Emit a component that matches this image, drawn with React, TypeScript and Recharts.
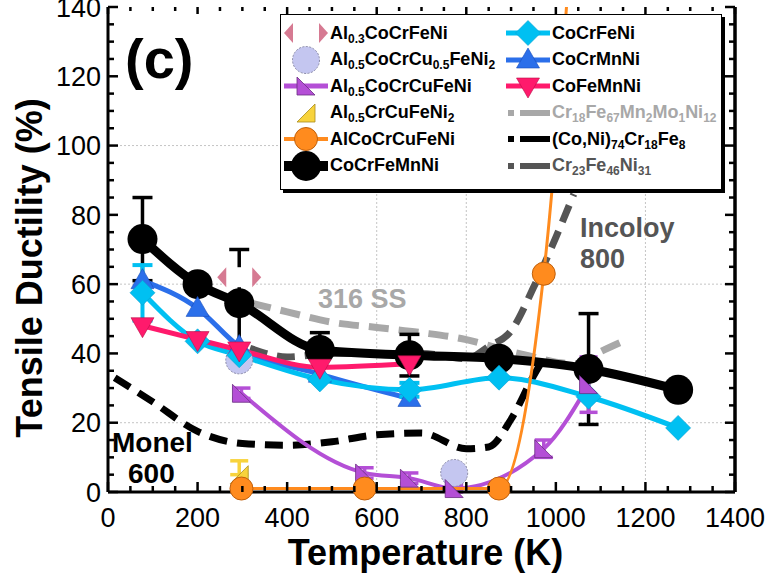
import React from 'react';
import { ComposedChart, Line, XAxis, YAxis, ReferenceLine, ErrorBar, Legend } from 'recharts';

const FONT = "'Liberation Sans', Arial, Helvetica, sans-serif";

// ---- measured alloys: temperature (K) / tensile ductility (%) ----
const T_CANTOR = [77, 200, 293, 473, 673, 873, 1073, 1273];
const CO_CR_FE_MN_NI = [73, 60, 54.5, 41, 39.5, 38.5, 35.5, 29.5];
const CO_CR_FE_MN_NI_ERR = [12, null, 15.5, 5, 6, null, 16, null];
const CO_CR_FE_NI = [57.5, 43.5, 39.5, 32.5, 29.5, 33, 27.5, 18.5];
const CO_CR_FE_NI_ERR = [8, null, null, null, 2, null, null, null];

const T_TERNARY = [77, 200, 293, 473, 673];
const CO_CR_MN_NI = [61, 53, 42, 34, 27];
const CO_FE_MN_NI = [48, 44, 41, 36, 37];

const T_AL03 = [293];
const AL03 = [62];
const T_AL05_CU05 = [293, 773];
const AL05_CU05 = [38, 5.5];
const T_AL05_CU = [298, 573, 673, 773, 973, 1073];
const AL05_CU = [28.5, 5.5, 4, 1, 12.5, 31];
const AL05_CU_ERR = [1.5, 1.5, 1.5, 1, 2.5, 8];
const T_AL05_CR = [293];
const AL05_CR = [5];
const AL05_CR_ERR = [[0, 4]];
const T_AL1 = [298, 573, 873, 973, 1073];
const AL1 = [1, 1, 1, 63, 235];

// ---- reference alloys (dashed) ----
const T_316 = [320, 400, 500, 600, 700, 800, 900, 950, 1000, 1050, 1100, 1150];
const SS316 = [54.5, 52, 49, 47.5, 46, 44, 40.5, 39, 37.5, 37, 40.5, 43.5];
const T_MONEL = [15, 100, 200, 300, 400, 500, 600, 700, 800, 850, 900, 950, 975];
const MONEL = [33, 26, 17.5, 14, 13.5, 14.5, 16.5, 17, 12.5, 13, 21, 33.5, 39];
const T_INCOLOY = [317, 400, 500, 600, 700, 800, 850, 900, 950, 1000, 1040];
const INCOLOY = [41.5, 39, 40, 40, 40, 38.5, 42, 46.5, 59, 73.5, 86];

// ---- axes ----
const X_MAJOR = [0, 200, 400, 600, 800, 1000, 1200, 1400];
const Y_MAJOR = [0, 20, 40, 60, 80, 100, 120, 140];
const X_GRID = [600, 800, 1200];
const Y_GRID = [20, 60, 100];
const X_TICKS = Array.from({ length: 29 }, (_, i) => i * 50);
const Y_TICKS = Array.from({ length: 29 }, (_, i) => i * 5);

const NAMES_LEFT = [
  'Al_{0.3}CoCrFeNi',
  'Al_{0.5}CoCrCu_{0.5}FeNi_{2}',
  'Al_{0.5}CoCrCuFeNi',
  'Al_{0.5}CrCuFeNi_{2}',
  'AlCoCrCuFeNi',
  'CoCrFeMnNi',
];
const NAMES_RIGHT = [
  'CoCrFeNi',
  'CoCrMnNi',
  'CoFeMnNi',
  'Cr_{18}Fe_{67}Mn_{2}Mo_{1}Ni_{12}',
  '(Co,Ni)_{74}Cr_{18}Fe_{8}',
  'Cr_{23}Fe_{46}Ni_{31}',
];

const C = {
  black: '#000000',
  cyan: '#00C0F2',
  blue: '#2B6FEA',
  pink: '#FF1A6C',
  purple: '#B44FD6',
  lavender: '#C4C6F0',
  orange: '#FF8B1E',
  yellow: '#F8D33C',
  rose: '#D67A92',
  ss: '#A8A8A8',
  monel: '#000000',
  incoloy: '#555555',
};

// frame size (chart 765x578, left axis 108, right axis 30, top 7, bottom axis 86)
const W = 765;
const H = 578;
const PLOT_W = W - 108 - 30;
const PLOT_H = H - 7 - 86;

const pts = (ts: number[], vs: number[], es?: any[]) =>
  ts.map((t, i) => ({ t, v: vs[i], e: es ? es[i] : null }));

// ---- marker shapes ----
const diamond = (x: number, y: number, h: number) => `${x},${y - h} ${x + h},${y} ${x},${y + h} ${x - h},${y}`;

const MK: Record<string, (x: number, y: number) => React.ReactNode> = {
  al03: (x, y) => (
    <g>
      <rect x={x - 13} y={y - 10} width={26} height={20} fill="#fff" />
      <polygon points={`${x - 22},${y} ${x - 13},${y - 10} ${x - 13},${y + 10}`} fill={C.rose} />
      <polygon points={`${x + 22},${y} ${x + 13},${y - 10} ${x + 13},${y + 10}`} fill={C.rose} />
    </g>
  ),
  al05cu05: (x, y) => (
    <circle cx={x} cy={y} r={13.5} fill={C.lavender} stroke="#8c8ca8" strokeWidth={1} strokeDasharray="2 1.5" />
  ),
  al05cu: (x, y) => (
    <polygon points={`${x - 9},${y - 9} ${x - 9},${y + 9} ${x + 9},${y + 9}`} fill={C.purple} stroke="#6b2d82" strokeWidth={0.8} />
  ),
  al05cr: (x, y) => (
    <polygon points={`${x - 9},${y + 9} ${x + 9},${y + 9} ${x + 9},${y - 9}`} fill={C.yellow} stroke="#a88c1c" strokeWidth={0.8} />
  ),
  al1: (x, y) => <circle cx={x} cy={y} r={11.5} fill={C.orange} stroke="#c0600c" strokeWidth={1} />,
  cantor: (x, y) => <circle cx={x} cy={y} r={15} fill={C.black} />,
  feni: (x, y) => <polygon points={diamond(x, y, 12.5)} fill={C.cyan} stroke="#0a9fd0" strokeWidth={0.6} />,
  mnni: (x, y) => (
    <polygon points={`${x},${y - 12} ${x + 11.5},${y + 8} ${x - 11.5},${y + 8}`} fill={C.blue} stroke="#1a4cb8" strokeWidth={0.6} />
  ),
  femn: (x, y) => (
    <polygon points={`${x - 11.5},${y - 8} ${x + 11.5},${y - 8} ${x},${y + 12}`} fill={C.pink} stroke="#b80f48" strokeWidth={0.6} />
  ),
};

const dotOf = (key: string) => (p: any) => (
  <g key={`dot-${key}-${p.index}`}>{p.cx == null || p.cy == null ? null : MK[key](p.cx, p.cy)}</g>
);

// ---- chemical formula text ----
const chem = (s: string) =>
  s.split(/(_\{[^}]*\})/).filter(Boolean).map((part, i) =>
    part.startsWith('_{') ? (
      <sub key={i} style={{ fontSize: 12, verticalAlign: 'baseline', position: 'relative', top: 4 }}>
        {part.slice(2, -1)}
      </sub>
    ) : (
      <span key={i}>{part}</span>
    )
  );

// ---- legend ----
const lineSample = (color: string, w: number, key?: string) => (
  <>
    <line x1={0} x2={44} y1={13} y2={13} stroke={color} strokeWidth={w} />
    {key ? MK[key](22, 13) : null}
  </>
);
const dashSample = (color: string) => (
  <>
    <rect x={2} y={10} width={6} height={6} fill={color} />
    <rect x={14} y={10} width={30} height={6} fill={color} />
  </>
);

const LEGEND_LEFT = [
  { icon: MK.al03(22, 13), color: '#000' },
  { icon: MK.al05cu05(22, 13), color: '#000' },
  { icon: lineSample(C.purple, 5, 'al05cu'), color: '#000' },
  { icon: MK.al05cr(22, 13), color: '#000' },
  { icon: lineSample(C.orange, 4, 'al1'), color: '#000' },
  { icon: lineSample(C.black, 10, 'cantor'), color: '#000' },
];
const LEGEND_RIGHT = [
  { icon: lineSample(C.cyan, 5, 'feni'), color: '#000' },
  { icon: lineSample(C.blue, 5, 'mnni'), color: '#000' },
  { icon: lineSample(C.pink, 5, 'femn'), color: '#000' },
  { icon: dashSample(C.ss), color: C.ss },
  { icon: dashSample(C.monel), color: '#000' },
  { icon: dashSample(C.incoloy), color: C.incoloy },
];

const LegendRow = ({ icon, color, name }: any) => (
  <div style={{ display: 'flex', alignItems: 'center', height: 26.5 }}>
    <svg width={44} height={26} style={{ overflow: 'visible', flex: 'none' }}>{icon}</svg>
    <span style={{ marginLeft: 2, color, whiteSpace: 'nowrap' }}>{chem(name)}</span>
  </div>
);

const LegendBox = () => (
  <div
    style={{
      boxSizing: 'border-box',
      width: 442,
      height: 176,
      border: '1.5px solid #000',
      boxShadow: '3px 3px 0 #000',
      background: '#fff',
      padding: '5px 0 0 3px',
      display: 'grid',
      gridTemplateColumns: '222px 1fr',
      gridTemplateRows: 'repeat(6, 26.5px)',
      gridAutoFlow: 'column',
      fontFamily: FONT,
      fontWeight: 700,
      fontSize: 18,
      lineHeight: 'normal',
    }}
  >
    {LEGEND_LEFT.map((e, i) => <LegendRow key={`l${i}`} {...e} name={NAMES_LEFT[i]} />)}
    {LEGEND_RIGHT.map((e, i) => <LegendRow key={`r${i}`} {...e} name={NAMES_RIGHT[i]} />)}
  </div>
);

// ---- ticks (inward; the opposite frame side gets the mirrored tick) ----
const BottomTick = ({ x, y, payload }: any) => {
  const major = X_MAJOR.includes(payload.value);
  const top = y - PLOT_H;
  return (
    <g>
      <path d={`M${x},${y} V${y - (major ? 10 : 6)}`} stroke="#000" strokeWidth={2.5} fill="none" />
      <path d={`M${x},${top} V${top + (major ? 7 : 4)}`} stroke="#000" strokeWidth={2.5} fill="none" />
      {major && (
        <text x={x} y={y + 35} textAnchor="middle" fontSize={27} fontFamily={FONT} fill="#000">
          {payload.value}
        </text>
      )}
    </g>
  );
};
const LeftTick = ({ x, y, payload }: any) => {
  const major = Y_MAJOR.includes(payload.value);
  const right = x + PLOT_W;
  return (
    <g>
      <path d={`M${x},${y} H${x + (major ? 10 : 6)}`} stroke="#000" strokeWidth={2.5} fill="none" />
      <path d={`M${right},${y} H${right - (major ? 10 : 6)}`} stroke="#000" strokeWidth={2.5} fill="none" />
      {major && (
        <text x={x - 7} y={y} dy="0.36em" textAnchor="end" fontSize={27} fontFamily={FONT} fill="#000">
          {payload.value}
        </text>
      )}
    </g>
  );
};

const XTitle = (p: any) => {
  const vb = p.viewBox || {};
  const cx = (vb.x ?? 108) + (vb.width ?? PLOT_W) / 2 + 4;
  return (
    <text x={cx} y={565} textAnchor="middle" fontSize={36} fontWeight={700} fontFamily={FONT} fill="#000">
      Temperature (K)
    </text>
  );
};
const YTitle = () => (
  <text
    x={0}
    y={0}
    transform="translate(42, 268) rotate(-90)"
    textAnchor="middle"
    fontSize={36}
    fontWeight={700}
    fontFamily={FONT}
    fill="#000"
  >
    Tensile Ductility (%)
  </text>
);

const AX = { xAxisId: 'b', yAxisId: 'l' } as const;

export default function App() {
  const al1 = pts(T_AL1, AL1);
  return (
    <div style={{ position: 'absolute', left: 0, top: 0, width: W, height: H, background: '#fff' }}>
      <ComposedChart width={W} height={H} margin={{ top: 7, right: 0, bottom: 0, left: 0 }}>
        <XAxis
          xAxisId="b"
          dataKey="t"
          type="number"
          domain={[0, 1400]}
          ticks={X_TICKS}
          interval={0}
          height={86}
          tickSize={0}
          tickMargin={0}
          tickLine={false}
          axisLine={{ stroke: '#000', strokeWidth: 3 }}
          tick={(p: any) => <BottomTick {...p} />}
          label={XTitle}
        />
        <YAxis
          yAxisId="l"
          type="number"
          domain={[0, 140]}
          ticks={Y_TICKS}
          interval={0}
          width={108}
          tickSize={0}
          tickMargin={0}
          tickLine={false}
          axisLine={{ stroke: '#000', strokeWidth: 3 }}
          tick={(p: any) => <LeftTick {...p} />}
          label={YTitle}
        />
        {/* same scale as the left axis; lets a curve leave the frame and be clipped */}
        <YAxis
          yAxisId="r"
          orientation="right"
          type="number"
          domain={[0, 140]}
          allowDataOverflow
          width={30}
          tick={false}
          tickLine={false}
          axisLine={{ stroke: '#000', strokeWidth: 3 }}
        />

        {Y_GRID.map((v) => (
          <ReferenceLine key={`gy${v}`} {...AX} y={v} stroke="#c4c4c4" strokeDasharray="2 2" strokeWidth={1} />
        ))}
        {X_GRID.map((v) => (
          <ReferenceLine key={`gx${v}`} {...AX} x={v} stroke="#c4c4c4" strokeDasharray="2 2" strokeWidth={1} />
        ))}
        <ReferenceLine {...AX} x={1400} ifOverflow="visible" stroke="#000" strokeWidth={3} />

        {/* reference alloys */}
        <Line {...AX} name={NAMES_RIGHT[3]} data={pts(T_316, SS316)} dataKey="v" type="monotone" stroke={C.ss}
          strokeWidth={7} strokeDasharray="20 10" dot={false} isAnimationActive={false} />
        <Line {...AX} name={NAMES_RIGHT[4]} data={pts(T_MONEL, MONEL)} dataKey="v" type="monotone" stroke={C.monel}
          strokeWidth={7} strokeDasharray="18 10" dot={false} isAnimationActive={false} />
        <Line {...AX} name={NAMES_RIGHT[5]} data={pts(T_INCOLOY, INCOLOY)} dataKey="v" type="monotone" stroke={C.incoloy}
          strokeWidth={7} strokeDasharray="18 10" dot={false} isAnimationActive={false} />

        {/* HEAs / MEAs */}
        <Line {...AX} name={NAMES_LEFT[5]} data={pts(T_CANTOR, CO_CR_FE_MN_NI, CO_CR_FE_MN_NI_ERR)} dataKey="v"
          type="monotone" stroke={C.black} strokeWidth={9} dot={dotOf('cantor')} isAnimationActive={false}>
          <ErrorBar dataKey="e" direction="y" width={10} stroke="#000" strokeWidth={3.5} />
        </Line>
        <Line {...AX} name={NAMES_LEFT[1]} data={pts(T_AL05_CU05, AL05_CU05)} dataKey="v" stroke="none"
          dot={dotOf('al05cu05')} isAnimationActive={false} />
        <Line {...AX} name={NAMES_RIGHT[1]} data={pts(T_TERNARY, CO_CR_MN_NI)} dataKey="v" type="monotone"
          stroke={C.blue} strokeWidth={5} dot={dotOf('mnni')} isAnimationActive={false} />
        <Line {...AX} name={NAMES_RIGHT[0]} data={pts(T_CANTOR, CO_CR_FE_NI, CO_CR_FE_NI_ERR)} dataKey="v"
          type="monotone" stroke={C.cyan} strokeWidth={5} dot={dotOf('feni')} isAnimationActive={false}>
          <ErrorBar dataKey="e" direction="y" width={10} stroke={C.cyan} strokeWidth={4} />
        </Line>
        <Line {...AX} name={NAMES_RIGHT[2]} data={pts(T_TERNARY, CO_FE_MN_NI)} dataKey="v" type="monotone"
          stroke={C.pink} strokeWidth={5} dot={dotOf('femn')} isAnimationActive={false} />
        <Line {...AX} name={NAMES_LEFT[2]} data={pts(T_AL05_CU, AL05_CU, AL05_CU_ERR)} dataKey="v" type="monotone"
          stroke={C.purple} strokeWidth={4} dot={dotOf('al05cu')} isAnimationActive={false}>
          <ErrorBar dataKey="e" direction="y" width={9} stroke={C.purple} strokeWidth={3.5} />
        </Line>
        <Line {...AX} name={NAMES_LEFT[3]} data={pts(T_AL05_CR, AL05_CR, AL05_CR_ERR)} dataKey="v" stroke="none"
          dot={dotOf('al05cr')} isAnimationActive={false}>
          <ErrorBar dataKey="e" direction="y" width={9} stroke={C.yellow} strokeWidth={3.5} />
        </Line>
        {/* curve runs off the top of the frame: drawn on the clipped right axis */}
        <Line xAxisId="b" yAxisId="r" name={NAMES_LEFT[4]} data={al1} dataKey="v" type="monotone"
          stroke={C.orange} strokeWidth={3} dot={false} isAnimationActive={false} />
        <Line {...AX} name={`${NAMES_LEFT[4]} points`} data={al1.filter((p) => p.v <= 140)} dataKey="v" stroke="none"
          dot={dotOf('al1')} isAnimationActive={false} />
        <Line {...AX} name={NAMES_LEFT[0]} data={pts(T_AL03, AL03)} dataKey="v" stroke="none" dot={dotOf('al03')}
          isAnimationActive={false} />

        <Legend
          layout="horizontal"
          verticalAlign="middle"
          align="center"
          content={() => <LegendBox />}
          wrapperStyle={{ position: 'absolute', left: 280, top: 14, width: 445, height: 179 }}
        />
      </ComposedChart>

      <svg width={W} height={H} style={{ position: 'absolute', left: 0, top: 0, pointerEvents: 'none' }}>
        <g fontFamily={FONT} fontWeight={700}>
          <text x={125} y={78} fontSize={56} fill="#000">(c)</text>
          <text x={318} y={308} fontSize={27} fill={C.ss}>316 SS</text>
          <text x={580} y={237} fontSize={27} fill={C.incoloy}>Incoloy</text>
          <text x={580} y={268} fontSize={27} fill={C.incoloy}>800</text>
          <text x={112} y={452} fontSize={28} fill="#000">Monel</text>
          <text x={128} y={483} fontSize={28} fill="#000">600</text>
        </g>
      </svg>
    </div>
  );
}
